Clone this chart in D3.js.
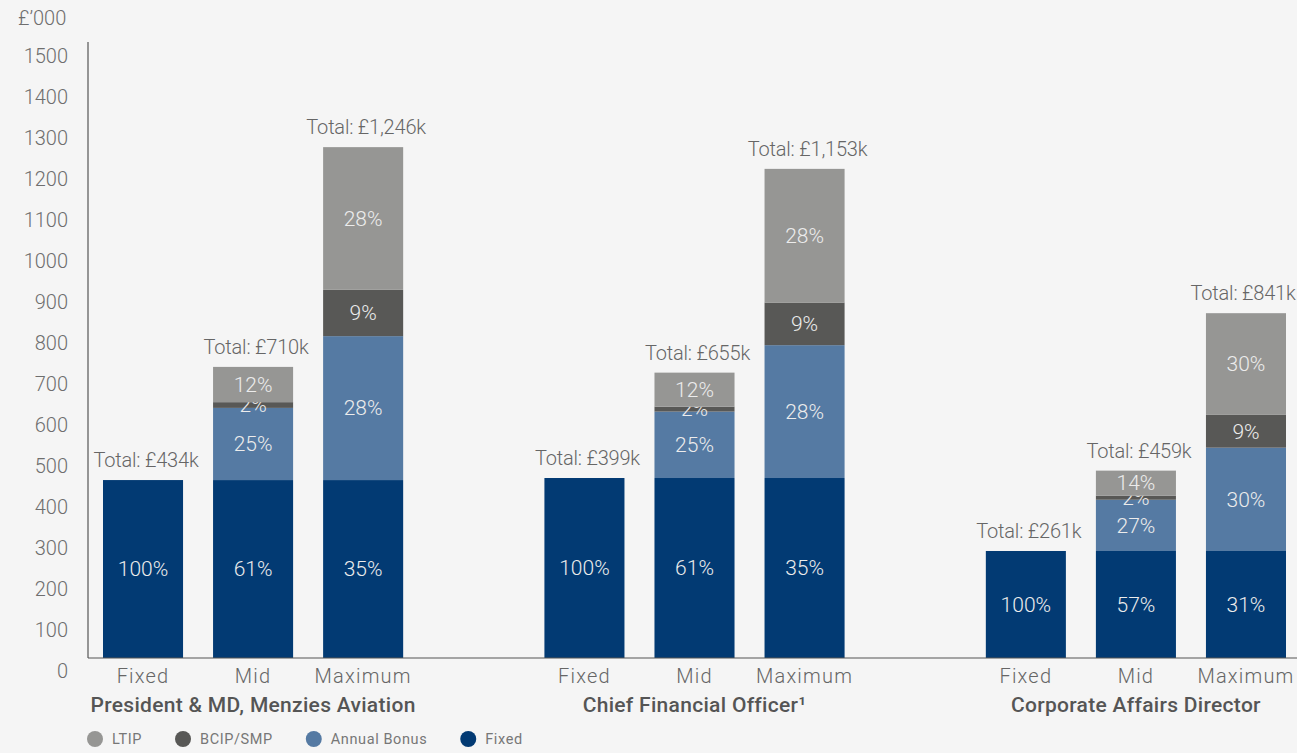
<!DOCTYPE html>
<html>
<head>
<meta charset="utf-8">
<script src="https://cdn.jsdelivr.net/npm/d3@7"></script>
<style>
    body { margin: 0; background: #f5f5f5; }
    svg { display: block; font-family: Roboto, "Open Sans", sans-serif; }
    .tick-label { fill: #6e6e6e; font-size: 20px; font-weight: 300; }
    .total { fill: #666; font-size: 20px; font-weight: 300; letter-spacing: -0.2px; }
    .pct { fill: #ececec; font-size: 21px; font-weight: 300; }
    .level { fill: #666; font-size: 20px; font-weight: 300; letter-spacing: 1.2px; }
    .group-title { fill: #555; font-size: 21px; font-weight: 500; letter-spacing: 0.3px; }
    .legend text { fill: #777; font-size: 14.5px; letter-spacing: 0.6px; }
</style>
</head>
<body>
<svg id="chart"></svg>
<script>
// categories
var groups = ['President & MD, Menzies Aviation', 'Chief Financial Officer\u00b9', 'Corporate Affairs Director'];
var levels = ['Fixed', 'Mid', 'Maximum'];
var seriesNames = ['Fixed', 'Annual Bonus', 'BCIP/SMP', 'LTIP'];
var legendOrder = ['LTIP', 'BCIP/SMP', 'Annual Bonus', 'Fixed'];

// values in £'000, one per bar (group by group, Fixed / Mid / Maximum)
var fixedValues = [434, 434, 434, 439, 439, 439, 261, 261, 261];
var bonusValues = [0, 176, 351, 0, 162, 324, 0, 125, 252];
var bcipValues  = [0, 14, 113, 0, 12, 104, 0, 10, 80];
var ltipValues  = [0, 86, 348, 0, 83, 326, 0, 61, 248];

// labels shown in the bars
var fixedPct = ['100%', '61%', '35%', '100%', '61%', '35%', '100%', '57%', '31%'];
var bonusPct = ['', '25%', '28%', '', '25%', '28%', '', '27%', '30%'];
var bcipPct  = ['', '2%', '9%', '', '2%', '9%', '', '2%', '9%'];
var ltipPct  = ['', '12%', '28%', '', '12%', '28%', '', '14%', '30%'];
var totals   = ['£434k', '£710k', '£1,246k', '£399k', '£655k', '£1,153k', '£261k', '£459k', '£841k'];

var yTicks = d3.range(0, 1501, 100);

var colors = {
    'Fixed': '#023a73',
    'Annual Bonus': '#557aa3',
    'BCIP/SMP': '#585856',
    'LTIP': '#969694'
};

var width = 1297, height = 753;
var svg = d3.select('#chart').attr('width', width).attr('height', height);

var rows = [];
groups.forEach((g, gi) => {
    levels.forEach((l, li) => {
        var i = gi * levels.length + li;
        rows.push({
            group: g, level: l,
            'Fixed': fixedValues[i], 'Annual Bonus': bonusValues[i],
            'BCIP/SMP': bcipValues[i], 'LTIP': ltipValues[i],
            pct: { 'Fixed': fixedPct[i], 'Annual Bonus': bonusPct[i], 'BCIP/SMP': bcipPct[i], 'LTIP': ltipPct[i] },
            total: totals[i]
        });
    });
});

var axisX = 88, baseY = 658;

var y = d3.scaleLinear().domain([0, 1500]).range([baseY, 43]);

var x0 = d3.scaleBand()
    .domain(groups)
    .range([103, 1286])
    .paddingInner(0.32);

var x1 = d3.scaleBand()
    .domain(levels)
    .range([0, x0.bandwidth()])
    .paddingInner(0.2727);

var barX = d => x0(d.group) + x1(d.level);

// y axis
var yAxis = d3.axisLeft(y)
    .tickValues(yTicks)
    .tickSize(0)
    .tickPadding(20)
    .tickFormat(d3.format('d'));

var gY = svg.append('g')
    .attr('transform', 'translate(' + axisX + ',0)')
    .call(yAxis)
    .attr('font-family', null)
    .attr('font-size', null);

gY.select('.domain').attr('stroke', '#555').attr('stroke-width', 1.2)
    .attr('d', 'M0,' + (y(1500) - 1) + 'V' + baseY);
gY.selectAll('.tick text')
    .attr('class', 'tick-label')
    .attr('dy', '0.32em')
    .attr('y', 13)
    .attr('fill', null);

svg.append('text')
    .attr('class', 'tick-label')
    .attr('x', 18)
    .attr('y', 25)
    .text('£\u2019000');

// stacked bars
var stack = d3.stack().keys(seriesNames);
var stacked = stack(rows);

var layer = svg.append('g').selectAll('g')
    .data(stacked)
    .join('g')
    .attr('fill', s => colors[s.key]);

layer.selectAll('rect')
    .data(s => s.map(p => Object.assign(p, { key: s.key })))
    .join('rect')
    .attr('x', p => barX(p.data))
    .attr('width', x1.bandwidth())
    .attr('y', p => y(p[1]))
    .attr('height', p => y(p[0]) - y(p[1]));

layer.selectAll('text')
    .data(s => s.filter(p => p.data.pct[s.key]))
    .join('text')
    .attr('class', 'pct')
    .attr('text-anchor', 'middle')
    .attr('x', p => barX(p.data) + x1.bandwidth() / 2)
    .attr('y', p => (y(p[0]) + y(p[1])) / 2)
    .attr('dy', '0.35em')
    .text(p => p.data.pct[p.key]);

// totals
var topOf = r => seriesNames.reduce((a, k) => a + r[k], 0);

svg.append('g').selectAll('text')
    .data(rows)
    .join('text')
    .attr('class', 'total')
    .attr('text-anchor', 'middle')
    .attr('x', r => barX(r) + x1.bandwidth() / 2 + 3)
    .attr('y', r => y(topOf(r)) - 13)
    .text(r => 'Total: ' + r.total)
    .each(function () {
        // keep the right-most label inside the picture
        var box = this.getBBox();
        var over = box.x + box.width - (width - 1);
        if (over > 0) d3.select(this).attr('x', +d3.select(this).attr('x') - over);
    });

// x baseline
svg.append('line')
    .attr('x1', axisX).attr('x2', width)
    .attr('y1', baseY).attr('y2', baseY)
    .attr('stroke', '#555').attr('stroke-width', 1.2);

// level labels
svg.append('g').selectAll('text')
    .data(rows)
    .join('text')
    .attr('class', 'level')
    .attr('text-anchor', 'middle')
    .attr('x', r => barX(r) + x1.bandwidth() / 2)
    .attr('y', 683)
    .text(r => r.level);

// group titles
svg.append('g').selectAll('text')
    .data(groups)
    .join('text')
    .attr('class', 'group-title')
    .attr('text-anchor', 'middle')
    .attr('x', g => x0(g) + x0.bandwidth() / 2)
    .attr('y', 712)
    .text(g => g);

// legend
var legend = svg.append('g').attr('class', 'legend');
var lx = 95;
legendOrder.forEach(k => {
    legend.append('circle')
        .attr('cx', lx).attr('cy', 739).attr('r', 8)
        .attr('fill', colors[k]);
    var t = legend.append('text')
        .attr('x', lx + 17).attr('y', 744)
        .text(k);
    lx += 17 + t.node().getComputedTextLength() + 41;
});
</script>
</body>
</html>
